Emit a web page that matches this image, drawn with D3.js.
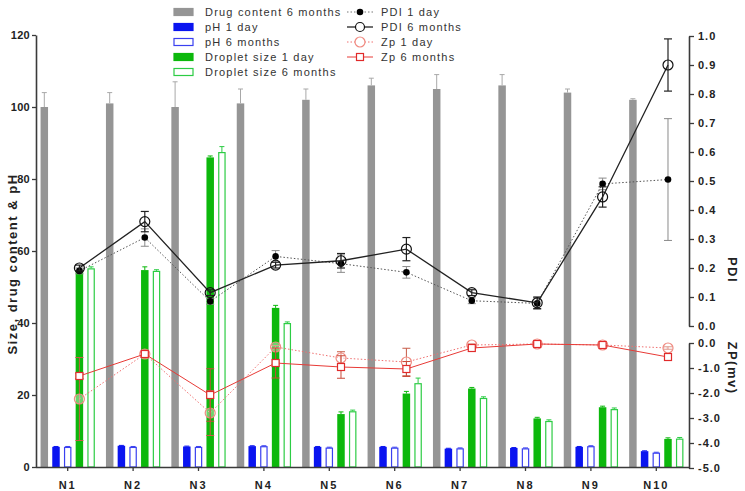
<!DOCTYPE html>
<html>
<head>
<meta charset="utf-8">
<script src="https://cdn.jsdelivr.net/npm/d3@7"></script>
<style>
  body { margin: 0; background: #fff; }
  svg { display: block; font-family: "Liberation Sans", Arial, sans-serif; }
</style>
</head>
<body>
<svg id="chart" width="745" height="491"></svg>
<script>
// ---------- data ----------
const categories = ["N1","N2","N3","N4","N5","N6","N7","N8","N9","N10"];

const drugContent    = [100, 101, 100, 101, 102, 106, 105, 106, 104, 102];
const drugContentErr = [4, 3, 7, 4, 3, 2, 4, 3, 1, 0.3];

const pH1Day     = [5.6, 5.9, 5.7, 5.8, 5.6, 5.6, 5.1, 5.3, 5.6, 4.4];
const pH1DayErr  = [0.1, 0.1, 0.1, 0.1, 0.1, 0.1, 0.1, 0.1, 0.1, 0.1];
const pH6Mon     = [5.6, 5.6, 5.6, 5.8, 5.4, 5.4, 5.2, 5.2, 5.8, 4.0];
const pH6MonErr  = [0.1, 0.1, 0.1, 0.1, 0.1, 0.1, 0.1, 0.1, 0.1, 0.1];

const droplet1Day    = [54.2, 54.7, 86.0, 44.2, 14.7, 20.4, 21.8, 13.5, 16.6, 7.8];
const droplet1DayErr = [0.8, 0.9, 0.4, 0.7, 0.6, 0.6, 0.3, 0.3, 0.3, 0.3];
const droplet6Mon    = [55.2, 54.5, 87.5, 40.0, 15.5, 23.3, 19.2, 12.8, 16.1, 7.9];
const droplet6MonErr = [0.4, 0.3, 1.5, 0.3, 0.3, 1.4, 0.3, 0.3, 0.3, 0.3];

const pdi1Day     = [0.19, 0.305, 0.085, 0.24, 0.215, 0.185, 0.087, 0.078, 0.49, 0.505];
const pdi1DayErr  = [0.01, 0.03, 0.01, 0.02, 0.03, 0.02, 0.01, 0.02, 0.02, 0.21];
const pdi6Mon     = [0.20, 0.36, 0.115, 0.21, 0.225, 0.265, 0.115, 0.08, 0.445, 0.90];
const pdi6MonErr  = [0.01, 0.035, 0.01, 0.01, 0.025, 0.04, 0.01, 0.02, 0.035, 0.09];

const zp1Day     = [-2.24, -0.44, -2.80, -0.16, -0.60, -0.76, -0.08, -0.04, -0.08, -0.20];
const zp1DayErr  = [1.66, 0.08, 0.90, 0.06, 0.25, 0.55, 0.05, 0.05, 0.05, 0.05];
const zp6Mon     = [-1.32, -0.44, -2.08, -0.80, -0.96, -1.04, -0.20, -0.04, -0.08, -0.56];
const zp6MonErr  = [0.10, 0.06, 1.05, 0.60, 0.45, 0.30, 0.05, 0.05, 0.05, 0.05];

const leftTicks = [0, 20, 40, 60, 80, 100, 120];
const pdiTicks  = [0, 0.1, 0.2, 0.3, 0.4, 0.5, 0.6, 0.7, 0.8, 0.9, 1.0];
const zpTicks   = [-5, -4, -3, -2, -1, 0];

// ---------- layout ----------
const svg = d3.select("#chart");
const axisColor = "#3a3a3a";

const x = d3.scaleBand().domain(categories).range([35, 689]).padding(0);
const barKeys = ["drug", "ph1", "ph6", "ds1", "ds6"];
const sub = d3.scaleBand().domain(barKeys).range([0, x.bandwidth()])
  .paddingInner(0.36).paddingOuter(0.475);

const yL = d3.scaleLinear().domain([0, 120]).range([467, 35]);
const yP = d3.scaleLinear().domain([0, 1]).range([326, 36]);
const yZ = d3.scaleLinear().domain([-5, 0]).range([468, 343]);

const barSeries = [
  { key: "drug", vals: drugContent, errs: drugContentErr, fill: "#959595", stroke: "#959595", err: "#a8a8a8" },
  { key: "ph1",  vals: pH1Day,      errs: pH1DayErr,      fill: "#0a14f0", stroke: "#0a14f0", err: "#0a14f0" },
  { key: "ph6",  vals: pH6Mon,      errs: pH6MonErr,      fill: "#ffffff", stroke: "#3a40f0", err: "#3a40f0" },
  { key: "ds1",  vals: droplet1Day, errs: droplet1DayErr, fill: "#0cb80c", stroke: "#0cb80c", err: "#0cb80c" },
  { key: "ds6",  vals: droplet6Mon, errs: droplet6MonErr, fill: "#ffffff", stroke: "#2ccc44", err: "#2ccc44" }
];

// ---------- bars ----------
const bw = sub.bandwidth();
barSeries.forEach(s => {
  const g = svg.append("g");
  const outline = s.fill === "#ffffff";
  g.selectAll("rect").data(categories).join("rect")
    .attr("x", (c) => x(c) + sub(s.key) + (outline ? 0.6 : 0))
    .attr("y", (c, i) => yL(s.vals[i]) + (outline ? 0.6 : 0))
    .attr("width", bw - (outline ? 1.2 : 0))
    .attr("height", (c, i) => yL(0) - yL(s.vals[i]) - (outline ? 0.6 : 0))
    .attr("fill", s.fill)
    .attr("stroke", outline ? s.stroke : "none")
    .attr("stroke-width", 1.2);
  // upward error bars
  const eg = svg.append("g").attr("stroke", s.err).attr("stroke-width", 1);
  categories.forEach((c, i) => {
    const cx = x(c) + sub(s.key) + bw / 2;
    const y0 = yL(s.vals[i]), y1 = yL(s.vals[i] + s.errs[i]);
    eg.append("line").attr("x1", cx).attr("x2", cx).attr("y1", y0).attr("y2", y1);
    eg.append("line").attr("x1", cx - 2.5).attr("x2", cx + 2.5).attr("y1", y1).attr("y2", y1);
  });
});

// ---------- axes ----------
function styleAxis(g) {
  g.selectAll(".domain").attr("stroke", axisColor).attr("stroke-width", 1.6);
  g.selectAll(".tick line").attr("stroke", axisColor).attr("stroke-width", 1.3);
  g.selectAll(".tick text").attr("fill", "#222").attr("font-size", 11)
    .attr("font-weight", "bold").style("letter-spacing", "1px");
}

const fmt1 = d => d.toFixed(1);

const leftAxis = svg.append("g").attr("transform", "translate(36,0)")
  .call(d3.axisLeft(yL).tickValues(leftTicks).tickSize(4).tickSizeOuter(0).tickPadding(2))
  .call(styleAxis);
leftAxis.selectAll(".tick text").style("letter-spacing", "0.3px");

const xAxis = svg.append("g").attr("transform", "translate(0,467)")
  .call(d3.axisBottom(x).tickSize(4).tickSizeOuter(0).tickPadding(10))
  .call(styleAxis);
xAxis.select(".domain").attr("d", "M36,0.5H690");
xAxis.selectAll(".tick text").style("letter-spacing", "2px");

svg.append("g").attr("transform", "translate(689,0)")
  .call(d3.axisRight(yP).tickValues(pdiTicks).tickFormat(fmt1).tickSize(5).tickSizeOuter(0).tickPadding(4))
  .call(styleAxis);

svg.append("g").attr("transform", "translate(689,0)")
  .call(d3.axisRight(yZ).tickValues(zpTicks).tickFormat(fmt1).tickSize(5).tickSizeOuter(0).tickPadding(4))
  .call(styleAxis);

// axis titles
svg.append("text")
  .attr("transform", "translate(17,264) rotate(-90)")
  .attr("text-anchor", "middle").attr("font-size", 13).attr("font-weight", "bold")
  .attr("fill", "#222").style("letter-spacing", "1.5px")
  .text("Size, drug content & pH");

svg.append("text")
  .attr("transform", "translate(728,270) rotate(90)")
  .attr("text-anchor", "middle").attr("font-size", 13).attr("font-weight", "bold")
  .attr("fill", "#222").style("letter-spacing", "1.5px")
  .text("PDI");

svg.append("text")
  .attr("transform", "translate(728,368) rotate(90)")
  .attr("text-anchor", "middle").attr("font-size", 13).attr("font-weight", "bold")
  .attr("fill", "#222").style("letter-spacing", "1.5px")
  .text("ZP(mv)");

// ---------- line series ----------
const px = c => x(c) + sub("ds1") + bw / 2;

function errBars(vals, errs, scale, color, width) {
  const g = svg.append("g").attr("stroke", color).attr("stroke-width", width);
  categories.forEach((c, i) => {
    const cx = px(c);
    const a = scale(vals[i] + errs[i]), b = scale(vals[i] - errs[i]);
    g.append("line").attr("x1", cx).attr("x2", cx).attr("y1", a).attr("y2", b);
    g.append("line").attr("x1", cx - 4).attr("x2", cx + 4).attr("y1", a).attr("y2", a);
    g.append("line").attr("x1", cx - 4).attr("x2", cx + 4).attr("y1", b).attr("y2", b);
  });
}

function linePath(vals, scale) {
  return d3.line().x((d, i) => px(categories[i])).y(d => scale(d))(vals);
}

// Zp 1 day
errBars(zp1Day, zp1DayErr, yZ, "#c65a45", 1);
svg.append("path").attr("d", linePath(zp1Day, yZ)).attr("fill", "none")
  .attr("stroke", "#f07070").attr("stroke-width", 1).attr("stroke-dasharray", "1.5,2");
svg.append("g").selectAll("circle").data(zp1Day).join("circle")
  .attr("cx", (d, i) => px(categories[i])).attr("cy", d => yZ(d)).attr("r", 5)
  .attr("fill", "rgba(255,255,255,0.4)").attr("stroke", "#f08a80").attr("stroke-width", 1.2);

// Zp 6 months
errBars(zp6Mon, zp6MonErr, yZ, "#c94a3a", 1);
svg.append("path").attr("d", linePath(zp6Mon, yZ)).attr("fill", "none")
  .attr("stroke", "#e83a36").attr("stroke-width", 1);
svg.append("g").selectAll("rect").data(zp6Mon).join("rect")
  .attr("x", (d, i) => px(categories[i]) - 3.5).attr("y", d => yZ(d) - 3.5)
  .attr("width", 7).attr("height", 7)
  .attr("fill", "#fff").attr("stroke", "#e02a2a").attr("stroke-width", 1.2);

// PDI 1 day
errBars(pdi1Day, pdi1DayErr, yP, "#8a8a8a", 1);
svg.append("path").attr("d", linePath(pdi1Day, yP)).attr("fill", "none")
  .attr("stroke", "#555").attr("stroke-width", 1).attr("stroke-dasharray", "1.5,2");
svg.append("g").selectAll("circle").data(pdi1Day).join("circle")
  .attr("cx", (d, i) => px(categories[i])).attr("cy", d => yP(d)).attr("r", 3.3)
  .attr("fill", "#000");

// PDI 6 months
errBars(pdi6Mon, pdi6MonErr, yP, "#222", 1.2);
svg.append("path").attr("d", linePath(pdi6Mon, yP)).attr("fill", "none")
  .attr("stroke", "#222").attr("stroke-width", 1.3);
svg.append("g").selectAll("circle").data(pdi6Mon).join("circle")
  .attr("cx", (d, i) => px(categories[i])).attr("cy", d => yP(d)).attr("r", 5)
  .attr("fill", "none").attr("stroke", "#111").attr("stroke-width", 1.2);

// ---------- legend ----------
const legendBars = [
  { label: "Drug content 6 months", fill: "#959595", stroke: "#959595" },
  { label: "pH 1 day",              fill: "#0a14f0", stroke: "#0a14f0" },
  { label: "pH 6 months",           fill: "#ffffff", stroke: "#3a40f0" },
  { label: "Droplet size 1 day",    fill: "#0cb80c", stroke: "#0cb80c" },
  { label: "Droplet size 6 months", fill: "#ffffff", stroke: "#2ccc44" }
];
const lg1 = svg.append("g");
legendBars.forEach((d, i) => {
  const cy = 12 + i * 15;
  lg1.append("rect").attr("x", 174).attr("y", cy - 3.5).attr("width", 19).attr("height", 7)
    .attr("fill", d.fill).attr("stroke", d.stroke).attr("stroke-width", 1.2);
  lg1.append("text").attr("x", 205).attr("y", cy + 4).attr("font-size", 11)
    .attr("fill", "#333").style("letter-spacing", "1.2px").text(d.label);
});

const legendLines = [
  { label: "PDI 1 day" },
  { label: "PDI 6 months" },
  { label: "Zp 1 day" },
  { label: "Zp 6 months" }
];
const lg2 = svg.append("g");
legendLines.forEach((d, i) => {
  const cy = 12 + i * 15;
  const cx = 360;
  if (i === 0) {
    lg2.append("line").attr("x1", 347).attr("x2", 373).attr("y1", cy).attr("y2", cy)
      .attr("stroke", "#777").attr("stroke-dasharray", "1.5,2");
    lg2.append("circle").attr("cx", cx).attr("cy", cy).attr("r", 3.3).attr("fill", "#000");
  } else if (i === 1) {
    lg2.append("line").attr("x1", 347).attr("x2", 373).attr("y1", cy).attr("y2", cy)
      .attr("stroke", "#222").attr("stroke-width", 1.3);
    lg2.append("circle").attr("cx", cx).attr("cy", cy).attr("r", 4.5)
      .attr("fill", "#fff").attr("stroke", "#111").attr("stroke-width", 1.2);
  } else if (i === 2) {
    lg2.append("line").attr("x1", 347).attr("x2", 373).attr("y1", cy).attr("y2", cy)
      .attr("stroke", "#f07070").attr("stroke-dasharray", "1.5,2");
    lg2.append("circle").attr("cx", cx).attr("cy", cy).attr("r", 5)
      .attr("fill", "#fff").attr("stroke", "#f08a80").attr("stroke-width", 1.2);
  } else {
    lg2.append("line").attr("x1", 347).attr("x2", 373).attr("y1", cy).attr("y2", cy)
      .attr("stroke", "#e83a36");
    lg2.append("rect").attr("x", cx - 3.5).attr("y", cy - 3.5).attr("width", 7).attr("height", 7)
      .attr("fill", "#fff").attr("stroke", "#e02a2a").attr("stroke-width", 1.2);
  }
  lg2.append("text").attr("x", 381).attr("y", cy + 4).attr("font-size", 11)
    .attr("fill", "#333").style("letter-spacing", "1.2px").text(d.label);
});
</script>
</body>
</html>
